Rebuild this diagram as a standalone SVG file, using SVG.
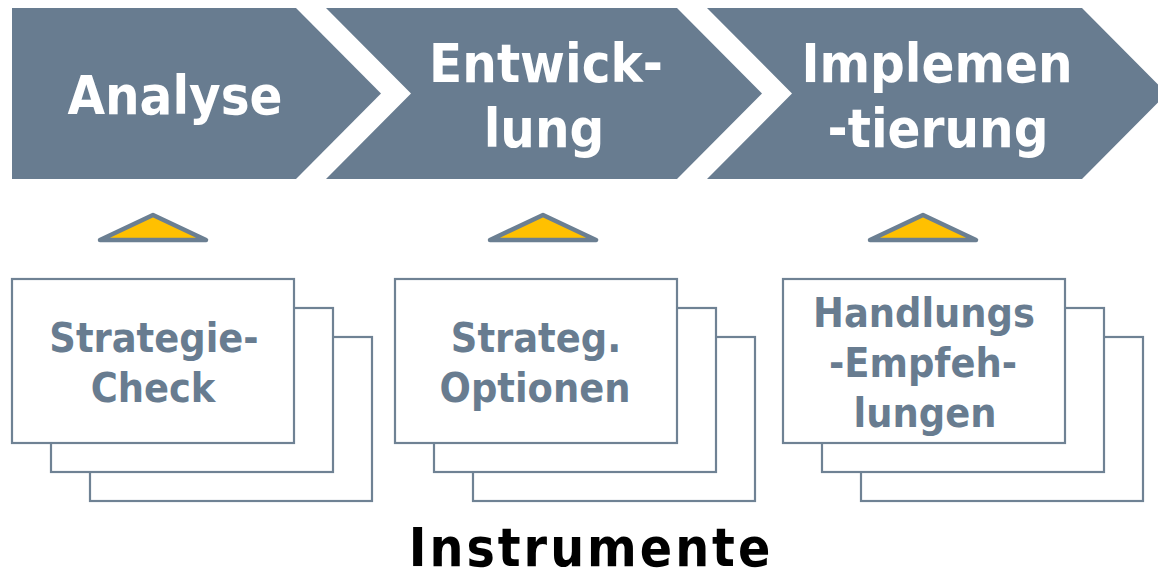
<svg xmlns="http://www.w3.org/2000/svg" width="1158" height="574" viewBox="0 0 1158 574">
<style>
.chev{fill:#687c90}
.ct{font-family:"DejaVu Sans Condensed","DejaVu Sans",sans-serif;font-stretch:condensed;font-weight:bold;font-size:54px;fill:#ffffff;text-anchor:middle}
.bt{font-family:"DejaVu Sans Condensed","DejaVu Sans",sans-serif;font-stretch:condensed;font-weight:bold;font-size:41px;fill:#687c90;text-anchor:middle}
.box{fill:#ffffff;stroke:#6f8294;stroke-width:2.2}
.tri{fill:#ffc000;stroke:#6b7f92;stroke-width:4.5;stroke-linejoin:round}
.title{font-family:"DejaVu Sans Condensed","DejaVu Sans",sans-serif;font-stretch:condensed;font-weight:bold;font-size:53px;letter-spacing:3px;fill:#000000;text-anchor:middle}
</style>
<g id="analyse">
<path class="chev" d="M12,8 L296,8 L381,93.5 L296,179 L12,179 Z"/>
<text class="ct" x="175" y="114">Analyse</text>
</g>
<g id="entwicklung">
<path class="chev" d="M326,8 L677,8 L762,93.5 L677,179 L326,179 L411,93.5 Z"/>
<text class="ct" x="546" y="82">Entwick-</text>
<text class="ct" x="544" y="147">lung</text>
</g>
<g id="implementierung">
<path class="chev" d="M707,8 L1082,8 L1167,93.5 L1082,179 L707,179 L792,93.5 Z"/>
<text class="ct" x="937" y="82">Implemen</text>
<text class="ct" x="938" y="147">-tierung</text>
</g>
<g id="connectors">
<path class="tri" d="M100,240 L153,215 L206,240 Z"/>
<path class="tri" d="M490,240 L543,215 L596,240 Z"/>
<path class="tri" d="M870,240 L923,215 L976,240 Z"/>
</g>
<g id="strategie-check">
<rect class="box" x="90" y="337" width="282" height="164"/>
<rect class="box" x="51" y="308" width="282" height="164"/>
<rect class="box" x="12" y="279" width="282" height="164"/>
<text class="bt" x="154" y="352">Strategie-</text>
<text class="bt" x="153" y="402">Check</text>
</g>
<g id="strateg-optionen">
<rect class="box" x="473" y="337" width="282" height="164"/>
<rect class="box" x="434" y="308" width="282" height="164"/>
<rect class="box" x="395" y="279" width="282" height="164"/>
<text class="bt" x="536" y="352">Strateg.</text>
<text class="bt" x="535" y="402">Optionen</text>
</g>
<g id="handlungsempfehlungen">
<rect class="box" x="861" y="337" width="282" height="164"/>
<rect class="box" x="822" y="308" width="282" height="164"/>
<rect class="box" x="783" y="279" width="282" height="164"/>
<text class="bt" x="924" y="327">Handlungs</text>
<text class="bt" x="923" y="377">-Empfeh-</text>
<text class="bt" x="925" y="427">lungen</text>
</g>
<g id="instrumente">
<text class="title" x="591" y="566">Instrumente</text>
</g>
</svg>
